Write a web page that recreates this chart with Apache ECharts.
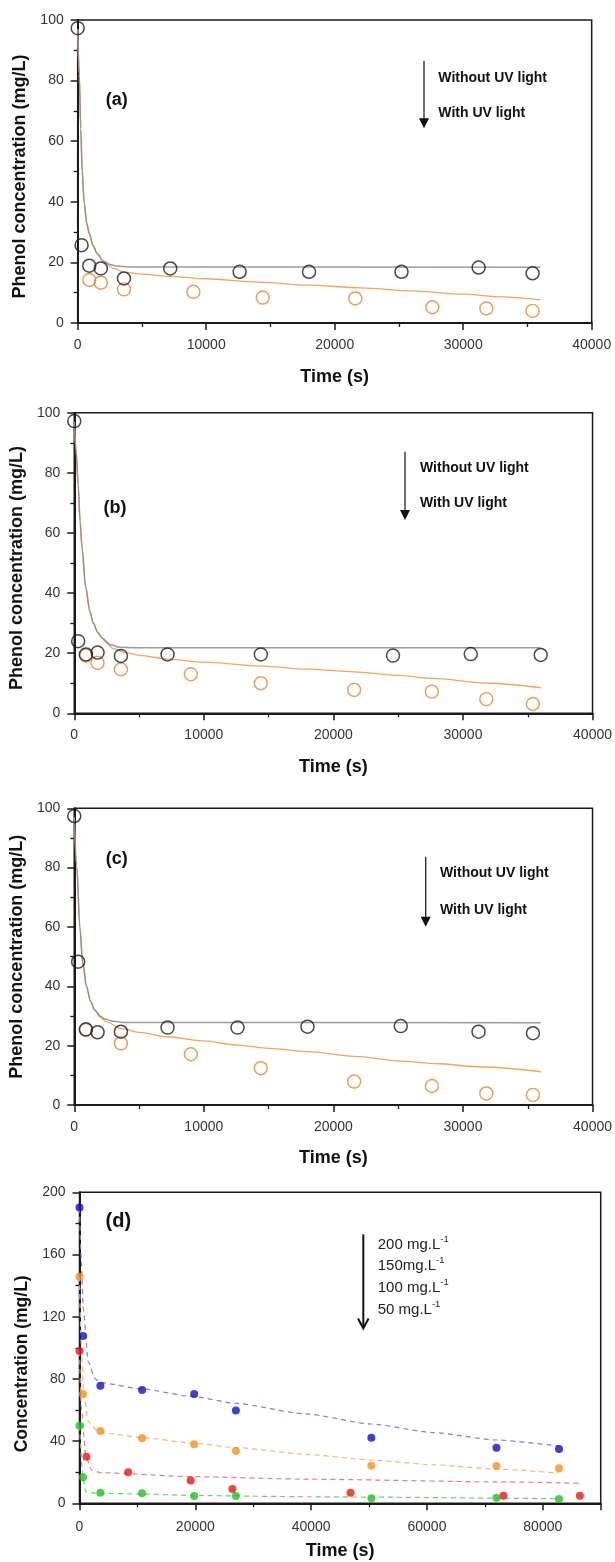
<!DOCTYPE html>
<html>
<head>
<meta charset="utf-8">
<script src="https://cdn.jsdelivr.net/npm/echarts@6/dist/echarts.min.js"></script>
<style>
  html, body { margin: 0; padding: 0; background: #fff; }
  #chart { width: 615px; height: 1562px; }
</style>
</head>
<body>
<div id="chart"></div>
<script>
// ---------- Panel (a) ----------
const timeA_dark = [0, 300, 900, 1800, 3600, 7200, 12600, 18000, 25200, 31200, 35400];
const concA_dark = [97.3, 25.7, 18.9, 18.0, 14.7, 18.0, 16.9, 16.9, 16.9, 18.3, 16.4];
const timeA_uv = [900, 1800, 3600, 9000, 14400, 21600, 27600, 31800, 35400];
const concA_uv = [14.2, 13.3, 11.1, 10.3, 8.4, 8.1, 5.2, 4.8, 4.0];
const fitA_darkT = [0, 120, 240, 350, 500, 700, 900, 1200, 1500, 2000, 2500, 3000, 4000, 36000];
const fitA_darkC = [97, 82, 64, 50, 40, 33, 29.5, 25.5, 23, 20.5, 19.3, 18.8, 18.5, 18.4];
const fitA_uvT = [0, 120, 240, 350, 500, 700, 900, 1200, 1500, 2000, 2800, 3600, 5000, 7200, 10000, 14000, 18000, 22000, 26000, 30000, 33000, 36000];
const fitA_uvC = [97, 82, 64, 50, 40, 33, 29.5, 25.5, 23, 20.2, 18, 16.8, 16.1, 15.4, 14.6, 13.5, 12.5, 11.6, 10.6, 9.5, 8.6, 7.6];

// ---------- Panel (b) ----------
const timeB_dark = [0, 300, 900, 1800, 3600, 7200, 14400, 24600, 30600, 36000];
const concB_dark = [97.2, 24.0, 19.6, 20.2, 19.1, 19.6, 19.6, 19.2, 19.7, 19.4];
const timeB_uv = [900, 1800, 3600, 9000, 14400, 21600, 27600, 31800, 35400];
const concB_uv = [19.2, 16.8, 14.6, 13.0, 10.0, 7.8, 7.2, 4.7, 3.1];
const fitB_darkT = [0, 150, 300, 450, 600, 880, 1200, 1470, 1800, 2160, 2800, 3500, 5000, 36000];
const fitB_darkC = [97, 87, 76, 64, 55, 42, 34, 30, 27, 25, 22.8, 22, 21.8, 21.8];
const fitB_uvT = [0, 150, 300, 450, 600, 880, 1200, 1470, 1800, 2160, 2500, 3000, 4000, 5000, 7200, 10000, 14400, 18000, 21600, 25000, 27600, 32000, 36000];
const fitB_uvC = [97, 87, 76, 64, 55, 42, 34, 30, 27, 25, 23.3, 21.5, 20.2, 19.3, 18, 17, 15.7, 14.7, 13.8, 12.6, 11.6, 10, 8.5];

// ---------- Panel (c) ----------
const timeC_dark = [0, 300, 900, 1800, 3600, 7200, 12600, 18000, 25200, 31200, 35400];
const concC_dark = [97.4, 48.3, 25.5, 24.5, 24.7, 26.1, 26.1, 26.4, 26.6, 24.7, 24.2];
const timeC_uv = [900, 3600, 9000, 14400, 21600, 27600, 31800, 35400];
const concC_uv = [25.3, 20.8, 17.1, 12.4, 7.9, 6.4, 3.9, 3.4];
const fitC_darkT = [0, 200, 430, 650, 944, 1250, 1580, 2000, 2350, 3000, 4000, 36000];
const fitC_darkC = [97, 80, 60, 48, 40, 35, 32, 30, 29, 28.2, 27.8, 27.7];
const fitC_uvT = [0, 200, 430, 650, 944, 1250, 1580, 2000, 2500, 3600, 5000, 7200, 10000, 12600, 15000, 18000, 21600, 25200, 28000, 31200, 36000];
const fitC_uvC = [97, 80, 60, 48, 40, 35, 32, 29.6, 28, 25.8, 24.5, 23, 21.6, 20.2, 19.1, 18, 16.4, 14.8, 13.9, 12.9, 11.2];

// ---------- Panel (d) ----------
const timeD = [0, 600, 3600, 10800, 19800, 27000, 50400, 72000, 82800];
const timeD_100 = [0, 1200, 8400, 19200, 26400, 46800, 73200, 86400];
const concD_200 = [190.3, 107.6, 75.6, 72.9, 70.3, 59.6, 42.2, 35.8, 34.9];
const concD_150 = [145.7, 70.3, 46.5, 41.8, 37.9, 33.6, 24.2, 24.0, 22.5];
const concD_100 = [97.9, 30.0, 19.9, 14.6, 9.2, 6.8, 4.9, 4.9];
const concD_50 = [49.9, 16.7, 6.8, 6.4, 4.7, 4.7, 3.2, 3.6, 2.8];
const fitD_200T = [0, 260, 660, 1500, 2700, 3700, 10800, 19800, 27000, 39000, 50400, 61000, 72000, 82800];
const fitD_200C = [190, 160, 125, 91, 80, 77.5, 73.5, 68.5, 64.3, 57.5, 51, 45.5, 40.7, 36.8];
const fitD_150T = [0, 260, 700, 1500, 3000, 3700, 10800, 19800, 27000, 39700, 50400, 61000, 72000, 82800];
const fitD_150C = [146, 105, 72, 52.5, 47, 45.5, 42.3, 38.6, 35.8, 31.3, 27.8, 24.8, 22, 19.4];
const fitD_100T = [0, 300, 1100, 2100, 3600, 19800, 39700, 72000, 86400];
const fitD_100C = [98, 62, 30, 21.4, 19.7, 17.1, 15.5, 13.8, 12.9];
const fitD_50T = [0, 600, 1060, 2500, 10800, 19800, 39700, 50400, 72000, 82800];
const fitD_50C = [50, 17, 7.5, 6.5, 6, 5, 4.2, 4, 3.3, 2.9];

// Axis tick labels
const xTicksABC = [0, 10000, 20000, 30000, 40000];
const yTicksABC = [0, 20, 40, 60, 80, 100];
const xTicksD = [0, 20000, 40000, 60000, 80000];
const yTicksD = [0, 40, 80, 120, 160, 200];

const zip = (xs, ys) => xs.map((x, i) => [x, ys[i]]);

const FONT = "'Liberation Sans', Arial, sans-serif";
const AXIS = '#1a1a1a';

const grids = [
  { left: 77.7, top: 20, width: 514, height: 303 },
  { left: 73.5, top: 412.7, width: 520.5, height: 300.6 },
  { left: 72.7, top: 808.3, width: 521, height: 296.7 },
  { left: 79.5, top: 1192.3, width: 521.2, height: 311 }
].map(g => Object.assign({ show: true, borderColor: AXIS, borderWidth: 1.5, backgroundColor: 'transparent' }, g));

function xAxis(idx, ticks, max, gap, labelMargin) {
  return {
    type: 'value', gridIndex: idx, min: ticks[0], max: max,
    interval: ticks[1] - ticks[0],
    axisLine: { lineStyle: { color: AXIS, width: 2 } },
    axisTick: { length: 7, lineStyle: { color: AXIS, width: 1.5 } },
    minorTick: { show: true, splitNumber: 2, length: 4, lineStyle: { color: AXIS, width: 1.3 } },
    splitLine: { show: false },
    axisLabel: { fontSize: 14, color: '#333', margin: labelMargin,
      showMaxLabel: max === ticks[ticks.length - 1], formatter: v => String(v) },
    name: 'Time (s)', nameLocation: 'middle', nameGap: gap,
    nameTextStyle: { fontWeight: 'bold', fontSize: 18, color: '#111', fontFamily: FONT }
  };
}
function yAxis(idx, ticks, name, gap, size, shift) {
  return {
    type: 'value', gridIndex: idx, min: ticks[0], max: ticks[ticks.length - 1],
    interval: ticks[1] - ticks[0],
    axisLine: { lineStyle: { color: AXIS, width: 2 } },
    axisTick: { length: 7, lineStyle: { color: AXIS, width: 1.5 } },
    minorTick: { show: true, splitNumber: 2, length: 4, lineStyle: { color: AXIS, width: 1.3 } },
    splitLine: { show: false },
    axisLabel: { fontSize: 14, color: '#333', margin: 14, formatter: v => String(v) },
    name: name, nameLocation: 'middle', nameGap: gap,
    nameTextStyle: { fontWeight: 'bold', fontSize: size, color: '#111', fontFamily: FONT, padding: [0, shift, 0, 0] }
  };
}

const GRAY = '#8a8a8a';
const ORANGE_LINE = '#f4a460';
const ORANGE_RING = '#e3822a';
const RING = '#1a1a1a';

function uvPanel(idx, darkT, darkC, uvT, uvC, fDT, fDC, fUT, fUC) {
  return [
    { type: 'line', xAxisIndex: idx, yAxisIndex: idx, data: zip(fUT, fUC), showSymbol: false,
      smooth: 0.3, smoothMonotone: 'x', lineStyle: { color: ORANGE_LINE, width: 1.3 }, z: 2, silent: true },
    { type: 'line', xAxisIndex: idx, yAxisIndex: idx, data: zip(fDT, fDC), showSymbol: false,
      smooth: 0.3, smoothMonotone: 'x', lineStyle: { color: GRAY, width: 1.5, opacity: 0.85 }, z: 3, silent: true },
    { type: 'scatter', xAxisIndex: idx, yAxisIndex: idx, data: zip(uvT, uvC), symbol: 'circle', symbolSize: 13,
      itemStyle: { color: 'rgba(255,255,255,0)', borderColor: ORANGE_RING, borderWidth: 1.4 }, z: 4 },
    { type: 'scatter', xAxisIndex: idx, yAxisIndex: idx, data: zip(darkT, darkC), symbol: 'circle', symbolSize: 13,
      itemStyle: { color: 'rgba(255,255,255,0)', borderColor: RING, borderWidth: 1.5 }, z: 5 }
  ];
}

function concSeries(t, c, ft, fc, dot, dash) {
  return [
    { type: 'line', xAxisIndex: 3, yAxisIndex: 3, data: zip(ft, fc), showSymbol: false,
      smooth: 0.2, smoothMonotone: 'x', lineStyle: { color: dash, width: 1.2, type: [5, 4] }, z: 2, silent: true },
    { type: 'scatter', xAxisIndex: 3, yAxisIndex: 3, data: zip(t, c), symbol: 'circle', symbolSize: 8,
      itemStyle: { color: dot }, z: 4 }
  ];
}

const series = [].concat(
  uvPanel(0, timeA_dark, concA_dark, timeA_uv, concA_uv, fitA_darkT, fitA_darkC, fitA_uvT, fitA_uvC),
  uvPanel(1, timeB_dark, concB_dark, timeB_uv, concB_uv, fitB_darkT, fitB_darkC, fitB_uvT, fitB_uvC),
  uvPanel(2, timeC_dark, concC_dark, timeC_uv, concC_uv, fitC_darkT, fitC_darkC, fitC_uvT, fitC_uvC),
  concSeries(timeD, concD_200, fitD_200T, fitD_200C, '#0d12c4', '#7f80dc'),
  concSeries(timeD, concD_150, fitD_150T, fitD_150C, '#f7901e', '#f6b676'),
  concSeries(timeD_100, concD_100, fitD_100T, fitD_100C, '#ef1515', '#f07a7a'),
  concSeries(timeD, concD_50, fitD_50T, fitD_50C, '#20c020', '#6ccf6c')
);

// Annotations: panel letters, arrows and their captions
function label(x, y, text, size, weight) {
  return { type: 'text', x: x, y: y, z: 10,
    style: { text: text, fill: '#111', font: `${weight} ${size}px ${FONT}`, align: 'center', verticalAlign: 'middle' } };
}
function uvArrow(x, y0, tip, tx, ty1, ty2) {
  return [
    { type: 'line', z: 10, shape: { x1: x, y1: y0, x2: x, y2: tip - 8 }, style: { stroke: '#222', lineWidth: 1.3 } },
    { type: 'polygon', z: 10, shape: { points: [[x - 5, tip - 10], [x + 5, tip - 10], [x, tip]] }, style: { fill: '#111' } },
    { type: 'text', z: 10, x: tx, y: ty1, style: { text: 'Without UV light', fill: '#111', font: `bold 14px ${FONT}`, verticalAlign: 'middle' } },
    { type: 'text', z: 10, x: tx, y: ty2, style: { text: 'With UV light', fill: '#111', font: `bold 14px ${FONT}`, verticalAlign: 'middle' } }
  ];
}
const concLabels = ['200 mg.L', '150mg.L', '100 mg.L', '50 mg.L'];
const concLabelY = [1243.3, 1264.5, 1286, 1308];
const graphics = [].concat(
  label(116.7, 100, '(a)', 18, 'bold'),
  label(115, 508.3, '(b)', 18, 'bold'),
  label(116.7, 859, '(c)', 18, 'bold'),
  label(118.3, 1221.7, '(d)', 20, 'bold'),
  uvArrow(424, 61, 128.3, 438.3, 77.7, 113.3),
  uvArrow(405, 451.7, 520, 420, 467.7, 503.3),
  uvArrow(425.7, 856.7, 926.7, 440, 873.3, 910),
  [
    { type: 'line', z: 10, shape: { x1: 363.3, y1: 1234.3, x2: 363.3, y2: 1327.5 }, style: { stroke: '#111', lineWidth: 2 } },
    { type: 'polyline', z: 10, shape: { points: [[358, 1318.5], [363.3, 1328.3], [368.6, 1318.5]] }, style: { stroke: '#111', lineWidth: 2, fill: null } }
  ],
  concLabels.map((t, i) => ({
    type: 'text', z: 10, x: 377.7, y: concLabelY[i],
    style: {
      text: `{b|${t}}{s|-1}`, verticalAlign: 'middle',
      rich: {
        b: { fontSize: 15, fontFamily: FONT, fill: '#222', lineHeight: 18, verticalAlign: 'bottom' },
        s: { fontSize: 9.5, fontFamily: FONT, fill: '#222', lineHeight: 18, verticalAlign: 'top' }
      }
    }
  }))
);

const chart = echarts.init(document.getElementById('chart'), null, { renderer: 'canvas' });
chart.setOption({
  animation: false,
  backgroundColor: '#fff',
  textStyle: { fontFamily: FONT },
  grid: grids,
  xAxis: [
    xAxis(0, xTicksABC, 40000, 45, 15),
    xAxis(1, xTicksABC, 40000, 45, 15),
    xAxis(2, xTicksABC, 40000, 44, 15),
    xAxis(3, xTicksD, 90000, 39, 17)
  ],
  yAxis: [
    yAxis(0, yTicksABC, 'Phenol concentration (mg/L)', 47, 18, 10),
    yAxis(1, yTicksABC, 'Phenol concentration (mg/L)', 46, 18, 10),
    yAxis(2, yTicksABC, 'Phenol concentration (mg/L)', 45, 18, 0),
    yAxis(3, yTicksD, 'Concentration (mg/L)', 44, 17.5, 32)
  ],
  series: series,
  graphic: graphics
});
</script>
</body>
</html>
